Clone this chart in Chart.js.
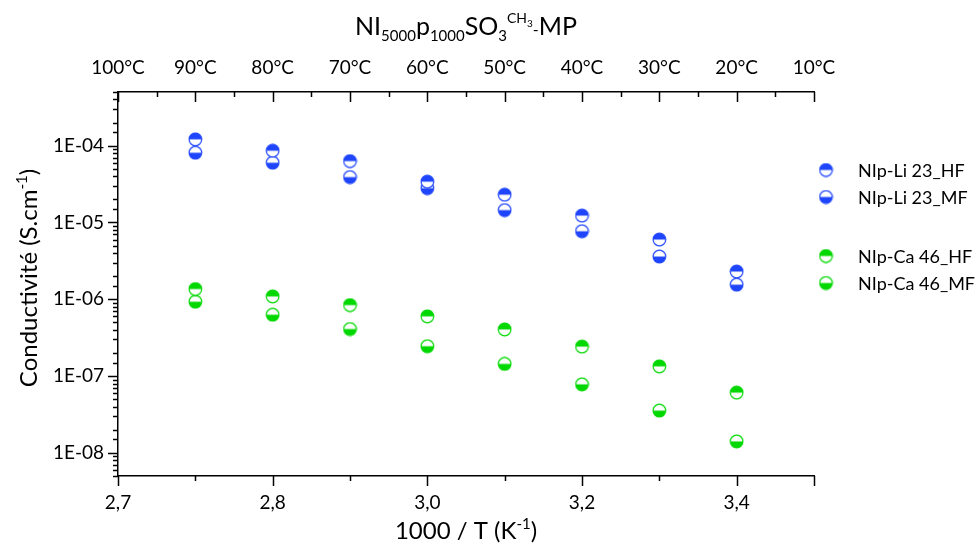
<!DOCTYPE html>
<html>
<head>
<meta charset="utf-8">
<script src="https://cdn.jsdelivr.net/npm/chart.js@4.4.1/dist/chart.umd.min.js"></script>
<style>
  html, body { margin: 0; padding: 0; background: #fff; }
  canvas { display: block; }
</style>
</head>
<body>
<canvas id="chart" width="980" height="544"></canvas>
<script>
// temperatures of the measurements (°C), same for every series
const temperatures = [90, 80, 70, 60, 50, 40, 30, 20];

// conductivity values (S/cm)
const liHF = [1.21e-4, 8.6e-5, 6.3e-5, 3.4e-5, 2.3e-5, 1.23e-5, 6.0e-6, 2.3e-6];
const liMF = [8.1e-5, 6.0e-5, 3.9e-5, 2.8e-5, 1.45e-5, 7.7e-6, 3.6e-6, 1.55e-6];
const caHF = [1.36e-6, 1.09e-6, 8.4e-7, 6.0e-7, 4.05e-7, 2.42e-7, 1.34e-7, 6.1e-8];
const caMF = [9.3e-7, 6.3e-7, 4.1e-7, 2.45e-7, 1.44e-7, 7.8e-8, 3.55e-8, 1.41e-8];

const seriesLabels = ['NIp-Li 23_HF', 'NIp-Li 23_MF', 'NIp-Ca 46_HF', 'NIp-Ca 46_MF'];

// axis labels
const bottomTickTemps = [100, 80, 60, 40, 20];
const bottomTickLabels = ['2,7', '2,8', '3,0', '3,2', '3,4'];
const yTickValues = [1e-8, 1e-7, 1e-6, 1e-5, 1e-4];
const yTickLabels = ['1E-08', '1E-07', '1E-06', '1E-05', '1E-04'];

const BLUE = '#1f45fc';
const GREEN = '#00d800';
const FONT = 'Lato';

// half filled circle marker
function halfCircle(color, topFilled) {
  const c = document.createElement('canvas');
  c.width = 15; c.height = 15;
  const g = c.getContext('2d');
  const r = 6.3, cx = 7.5, cy = 7.5;
  g.fillStyle = '#fff';
  g.beginPath(); g.arc(cx, cy, r, 0, Math.PI * 2); g.fill();
  g.fillStyle = color;
  g.beginPath();
  if (topFilled) g.arc(cx, cy, r, Math.PI, 2 * Math.PI);
  else g.arc(cx, cy, r, 0, Math.PI);
  g.closePath(); g.fill();
  g.strokeStyle = color; g.lineWidth = 1.2;
  g.beginPath(); g.arc(cx, cy, r, 0, Math.PI * 2); g.stroke();
  return c;
}

function toPoints(values) {
  return values.map((v, i) => ({ x: temperatures[i], y: v }));
}

function drawRich(ctx, parts, x, y) {
  let w = 0;
  parts.forEach(p => { ctx.font = p[1] + 'px ' + FONT; w += ctx.measureText(p[0]).width; });
  let cx = x - w / 2;
  parts.forEach(p => {
    ctx.font = p[1] + 'px ' + FONT;
    ctx.fillText(p[0], cx, y + p[2]);
    cx += ctx.measureText(p[0]).width;
  });
}

const isDecade = v => Math.abs(Math.log10(v) - Math.round(Math.log10(v))) < 1e-6;

const tickMarks = {
  id: 'tickMarks',
  afterDraw(chart) {
    const ctx = chart.ctx, a = chart.chartArea;
    ctx.save();
    ctx.strokeStyle = '#000';
    ctx.lineWidth = 1.5;
    const line = (x1, y1, x2, y2) => { ctx.beginPath(); ctx.moveTo(x1, y1); ctx.lineTo(x2, y2); ctx.stroke(); };
    const xs = chart.scales.x;
    xs.ticks.forEach(t => {
      const px = Math.round(xs.getPixelForValue(t.value)) + 0.5;
      const major = bottomTickTemps.includes(t.value) || t.value === xs.min;
      line(px, a.bottom, px, a.bottom + (major ? 10 : 5));
    });
    const xt = chart.scales.x2;
    xt.ticks.forEach(t => {
      const px = Math.round(xt.getPixelForValue(t.value)) + 0.5;
      line(px, a.top, px, a.top + (t.value % 10 === 0 ? 10 : 5));
    });
    const ys = chart.scales.y;
    ys.ticks.forEach(t => {
      const py = Math.round(ys.getPixelForValue(t.value)) + 0.5;
      line(a.left, py, a.left - (isDecade(t.value) ? 10 : 5), py);
    });
    ctx.restore();
  }
};

const titles = {
  id: 'titles',
  afterDraw(chart) {
    const ctx = chart.ctx, a = chart.chartArea;
    ctx.save();
    ctx.fillStyle = '#000';
    ctx.textBaseline = 'alphabetic';
    const mid = (a.left + a.right) / 2;
    drawRich(ctx, [['NI', 25, 0], ['5000', 15, 6], ['p', 25, 0], ['1000', 15, 6],
      ['SO', 25, 0], ['3', 15, 6], ['CH', 14, -12], ['3', 10, -8], ['-', 16, 0], ['MP', 25, 0]], mid, 35);
    drawRich(ctx, [['1000 / T (K', 24, 0], ['-1', 15, -10], [')', 24, 0]], mid, 539);
    ctx.translate(37, (a.top + a.bottom) / 2 - 6);
    ctx.rotate(-Math.PI / 2);
    drawRich(ctx, [['Conductivité (S.cm', 24, 0], ['-1', 15, -10], [')', 24, 0]], 0, 0);
    ctx.restore();

    // legend
    ctx.save();
    ctx.font = '18px ' + FONT;
    ctx.textBaseline = 'middle';
    ctx.fillStyle = '#000';
    let y = 170;
    chart.data.datasets.forEach((ds, i) => {
      ctx.drawImage(ds.pointStyle, 826 - 7.5, y - 7.5);
      ctx.fillText(ds.label, 858, y + 1);
      y += i === 1 ? 59 : 27;
    });
    ctx.restore();
  }
};

const tickFont = { family: FONT, size: 19 };
const noGrid = { display: false, drawTicks: false };
const axisLine = { display: true, color: '#000', width: 1.5 };

new Chart(document.getElementById('chart'), {
  type: 'scatter',
  data: {
    datasets: [
      { label: seriesLabels[0], data: toPoints(liHF), pointStyle: halfCircle(BLUE, true) },
      { label: seriesLabels[1], data: toPoints(liMF), pointStyle: halfCircle(BLUE, false) },
      { label: seriesLabels[2], data: toPoints(caHF), pointStyle: halfCircle(GREEN, true) },
      { label: seriesLabels[3], data: toPoints(caMF), pointStyle: halfCircle(GREEN, false) }
    ]
  },
  options: {
    responsive: false,
    animation: false,
    events: [],
    layout: { padding: { right: 166 } },
    plugins: { legend: { display: false }, title: { display: false }, tooltip: { enabled: false } },
    scales: {
      x: {
        type: 'linear', position: 'bottom', min: 10, max: 100, reverse: true,
        grid: noGrid, border: axisLine,
        ticks: {
          stepSize: 10, autoSkip: false, maxRotation: 0, padding: 15, color: '#000', font: tickFont,
          callback: v => { const i = bottomTickTemps.indexOf(v); return i >= 0 ? bottomTickLabels[i] : ''; }
        },
        afterFit: s => { s.height = 68; }
      },
      x2: {
        type: 'linear', position: 'top', min: 10, max: 100, reverse: true,
        grid: noGrid, border: axisLine,
        ticks: {
          stepSize: 5, autoSkip: false, maxRotation: 0, padding: 13, color: '#000', font: tickFont,
          callback: v => (v % 10 === 0 ? v + '°C' : '')
        },
        afterFit: s => { s.height = 92; }
      },
      y: {
        type: 'logarithmic', min: 5e-9, max: 5e-4,
        grid: noGrid, border: axisLine,
        ticks: {
          autoSkip: false, padding: 14, color: '#000', font: tickFont,
          callback: v => { const i = yTickValues.findIndex(t => Math.abs(t - v) / t < 1e-6); return i >= 0 ? yTickLabels[i] : ''; }
        },
        afterFit: s => { s.width = 118; }
      }
    }
  },
  plugins: [tickMarks, titles]
});
</script>
</body>
</html>
